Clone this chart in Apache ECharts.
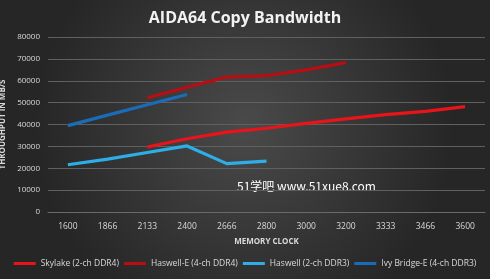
<!DOCTYPE html>
<html><head><meta charset="utf-8">
<script src="https://cdn.jsdelivr.net/npm/echarts@6/dist/echarts.min.js"></script>
<style>html,body{margin:0;padding:0;background:#333;}#c{width:490px;height:279px;}</style>
</head><body><div id="c"></div>
<script>
const categories = ['1600','1866','2133','2400','2666','2800','3000','3200','3333','3466','3600'];
const skylake   = [null,null,29700,33500,36500,38300,40500,42600,44500,46000,48200];
const haswellE  = [null,null,52200,57000,61700,62300,65000,68300,null,null,null];
const haswell   = [21600,24200,27200,30200,22100,23300,null,null,null,null,null];
const ivyBridge = [39500,44300,49000,53700,null,null,null,null,null,null,null];
const seriesNames = ['Skylake (2-ch DDR4)','Haswell-E (4-ch DDR4)','Haswell (2-ch DDR3)','Ivy Bridge-E (4-ch DDR3)'];
const colors = ['#e8141a','#b80d12','#2eaee6','#1a6cb8'];
const datas = [skylake, haswellE, haswell, ivyBridge];

const chart = echarts.init(document.getElementById('c'));
chart.setOption({
  backgroundColor: {
    type:'radial', x:0.5, y:0.45, r:0.75,
    colorStops:[{offset:0,color:'#4a4a4a'},{offset:1,color:'#262626'}]
  },
  title:{text:'AIDA64 Copy Bandwidth', left:'center', top:5,
    textStyle:{color:'#f2f2f2', fontSize:16, fontWeight:'bold', fontFamily:'Open Sans'}},
  grid:{left:48, right:5, top:37, bottom:67, containLabel:false, outerBoundsMode:'none'},
  legend:{bottom:6, left:'center', itemWidth:22, itemHeight:3, itemGap:5, icon:'rect',
    textStyle:{color:'#d9d9d9', fontSize:8.5, fontFamily:'Open Sans'}, data:seriesNames},
  xAxis:{type:'category', data:categories, boundaryGap:true,
    name:'MEMORY CLOCK', nameLocation:'middle', nameGap:26,
    nameTextStyle:{color:'#d9d9d9', fontSize:8, fontWeight:'bold', fontFamily:'Open Sans'},
    axisLine:{lineStyle:{color:'#6a6a6a'}}, axisTick:{show:false},
    axisLabel:{color:'#d9d9d9', fontSize:8.5, fontFamily:'Open Sans', margin:10}},
  yAxis:{type:'value', min:0, max:80000, interval:10000,
    name:'THROUGHPUT IN MB/S', nameLocation:'middle', nameGap:33, nameRotate:90,
    nameTextStyle:{color:'#d9d9d9', fontSize:8, fontWeight:'bold', fontFamily:'Open Sans'},
    axisLine:{show:false}, axisTick:{show:false},
    axisLabel:{color:'#d9d9d9', fontSize:8, fontFamily:'Open Sans', margin:8, formatter:v=>String(v)},
    splitLine:{lineStyle:{color:'#606060', width:1}}},
  graphic:[{type:'text', left:237, top:180,
    style:{text:'51学吧 www.51xue8.com', fill:'#ffffff', fontSize:12, fontFamily:'Noto Sans CJK SC'}}],
  series: datas.map((d,i)=>({name:seriesNames[i], type:'line', data:d, showSymbol:false, symbol:'none',
    connectNulls:false, lineStyle:{width:3.2, color:colors[i]}, itemStyle:{color:colors[i]}}))
});
</script></body></html>
